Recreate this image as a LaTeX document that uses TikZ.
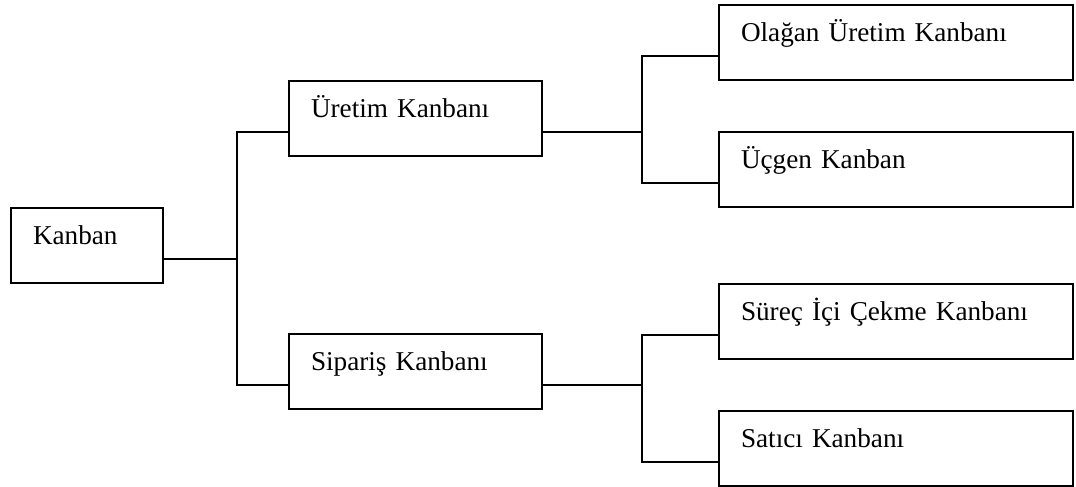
\documentclass[tikz,border=0pt]{standalone}
\usepackage{fontspec}
\setmainfont{Liberation Serif}
\usetikzlibrary{calc}
\tikzset{box/.style={draw, line width=1pt, anchor=north west, align=left, inner xsep=11pt, inner ysep=0pt,
  text height=18pt, text depth=19.5pt, font=\fontsize{13.6}{16}\selectfont}}
\newcommand\dy{-6.5pt}

\begin{document}
\begin{tikzpicture}[x=0.5pt,y=-0.5pt,line width=1pt]
\useasboundingbox (0,0) rectangle (1076,487);
\node[box, text width=54pt] (K) at (10,207) {Kanban};
\node[box, text width=104.5pt] (U) at (288,80) {Üretim Kanbanı};
\node[box, text width=104.5pt] (S) at (288,333) {Sipariş Kanbanı};
\node[box, text width=155pt] (UO) at (718,4) {Olağan Üretim Kanbanı};
\node[box, text width=155pt] (UU) at (718,131) {Üçgen Kanban};
\node[box, text width=155pt] (SS) at (718,283) {Süreç İçi Çekme Kanbanı};
\node[box, text width=155pt] (ST) at (718,410) {Satıcı Kanbanı};
\coordinate (B1) at (237,257);
\coordinate (B2) at (642,131);
\coordinate (B3) at (642,383);
\draw ([yshift=\dy]K.east) -| (B1);
\draw ([yshift=\dy]U.west) -| (B1) |- ([yshift=\dy]S.west);
\draw ([yshift=\dy]U.east) -| (B2);
\draw ([yshift=\dy]UO.west) -| (B2) |- ([yshift=\dy]UU.west);
\draw ([yshift=\dy]S.east) -| (B3);
\draw ([yshift=\dy]SS.west) -| (B3) |- ([yshift=\dy]ST.west);
\end{tikzpicture}
\end{document}
